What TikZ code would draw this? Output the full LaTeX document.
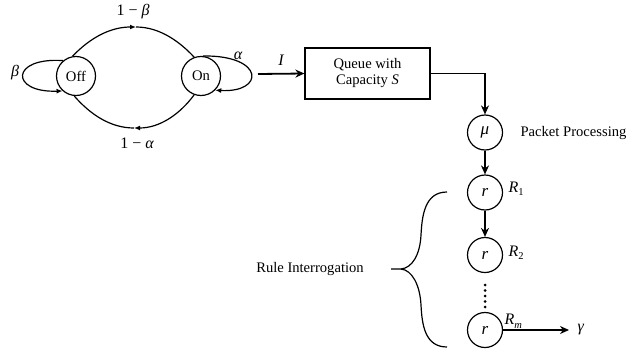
\documentclass[tikz,border=0pt]{standalone}
\usepackage{fontspec}
\setmainfont{Liberation Serif}
\usetikzlibrary{arrows.meta}
\newcommand{\mv}[1]{{\itshape #1}}
\newcommand{\sbs}[1]{\raisebox{-3.5pt}{\fontsize{10.5}{11}\selectfont\upshape #1}}
\begin{document}
\begin{tikzpicture}[x=1pt,y=-1pt,
  font=\fontsize{14.6}{17}\selectfont,
  line width=1.2pt,
  st/.style={circle, draw, minimum size=39pt, inner sep=0pt},
  sm/.style={circle, draw, minimum size=35pt, inner sep=0pt, font=\fontsize{17}{17}\selectfont\itshape},
  arr/.style={-{Stealth[length=9pt,width=8pt]}, line width=1.8pt},
  tri/.style={-{Latex[length=6pt,width=5pt]}},
  mth/.style={font=\fontsize{16}{17}\selectfont\itshape},
  lbl/.style={inner sep=0pt}]
\useasboundingbox (0,0) rectangle (639,351);
% Markov chain
\node[st] (off) at (76,76) {Off};
\node[st] (on) at (201,76) {On};
\coordinate (tp) at (136,27);
\coordinate (bt) at (134,128);
\draw[tri] (off.100) .. controls (92,36) and (112,27) .. (tp);
\draw (tp) .. controls (160,27) and (180,42) .. (on.110);
\draw[tri] (on.250) .. controls (180,114) and (160,128) .. (bt);
\draw (bt) .. controls (110,128) and (90,114) .. (off.265);
\draw[tri] (off.130) .. controls (10,57) and (10,93) .. (off.228);
\draw[tri] (on.85) .. controls (265,55) and (265,93) .. (on.-45);
\node[mth] (lb) at (133,12) {\upshape 1 − \itshape β};
\node[mth] (la) at (137,143) {\upshape 1 − \itshape α};
\node[mth] (beta) at (15,73) {β};
\node[mth] (alpha) at (238,56) {α};
% queue
\coordinate (ist) at (258,74);
\node[draw, minimum width=125pt, minimum height=51pt, align=center, inner sep=0pt] (q) at (367.5,73.5) {Queue with\\[-1pt]Capacity \mv{S}};
\draw[arr] (ist) -- (q.west);
\node[mth] (I) at (281,60) {I};
% processing
\node[sm] (mu) at (485,132.5) {μ};
\draw[arr] (q.east) -| (mu.north);
\node[anchor=west, lbl] (pp) at (520,133) {Packet Processing};
\node[sm] (r1) at (485,192.5) {r};
\node[sm] (r2) at (485,255) {r};
\node[sm] (rm) at (485,330) {r};
\draw[arr] (mu) -- (r1);
\draw[arr] (r1) -- (r2);
\node[anchor=west, lbl, mth] (R1) at (508,189) {R\sbs{1}};
\node[anchor=west, lbl, mth] (R2) at (508,253) {R\sbs{2}};
\foreach \yy in {285,290.5,296,301.5,307} \fill (485,\yy) circle (1.5pt);
\coordinate (gend) at (569,330);
\draw[arr] (rm.east) -- (gend);
\node[anchor=west, lbl, mth] (g) at (577,330) {γ};
\node[anchor=south west, inner sep=1pt, mth] (Rm) at (503,330) {R\sbs{\itshape m}};
% brace
\draw (447,192) .. controls (425,192) and (422,215) .. (421,235)
      .. controls (420,255) and (412,268) .. (401,269) -- (391,269);
\draw (401,269) .. controls (412,270) and (420,285) .. (421,305)
      .. controls (422,325) and (425,347) .. (447,347);
\node (ri) at (310,269) {Rule Interrogation};
\end{tikzpicture}
\end{document}
